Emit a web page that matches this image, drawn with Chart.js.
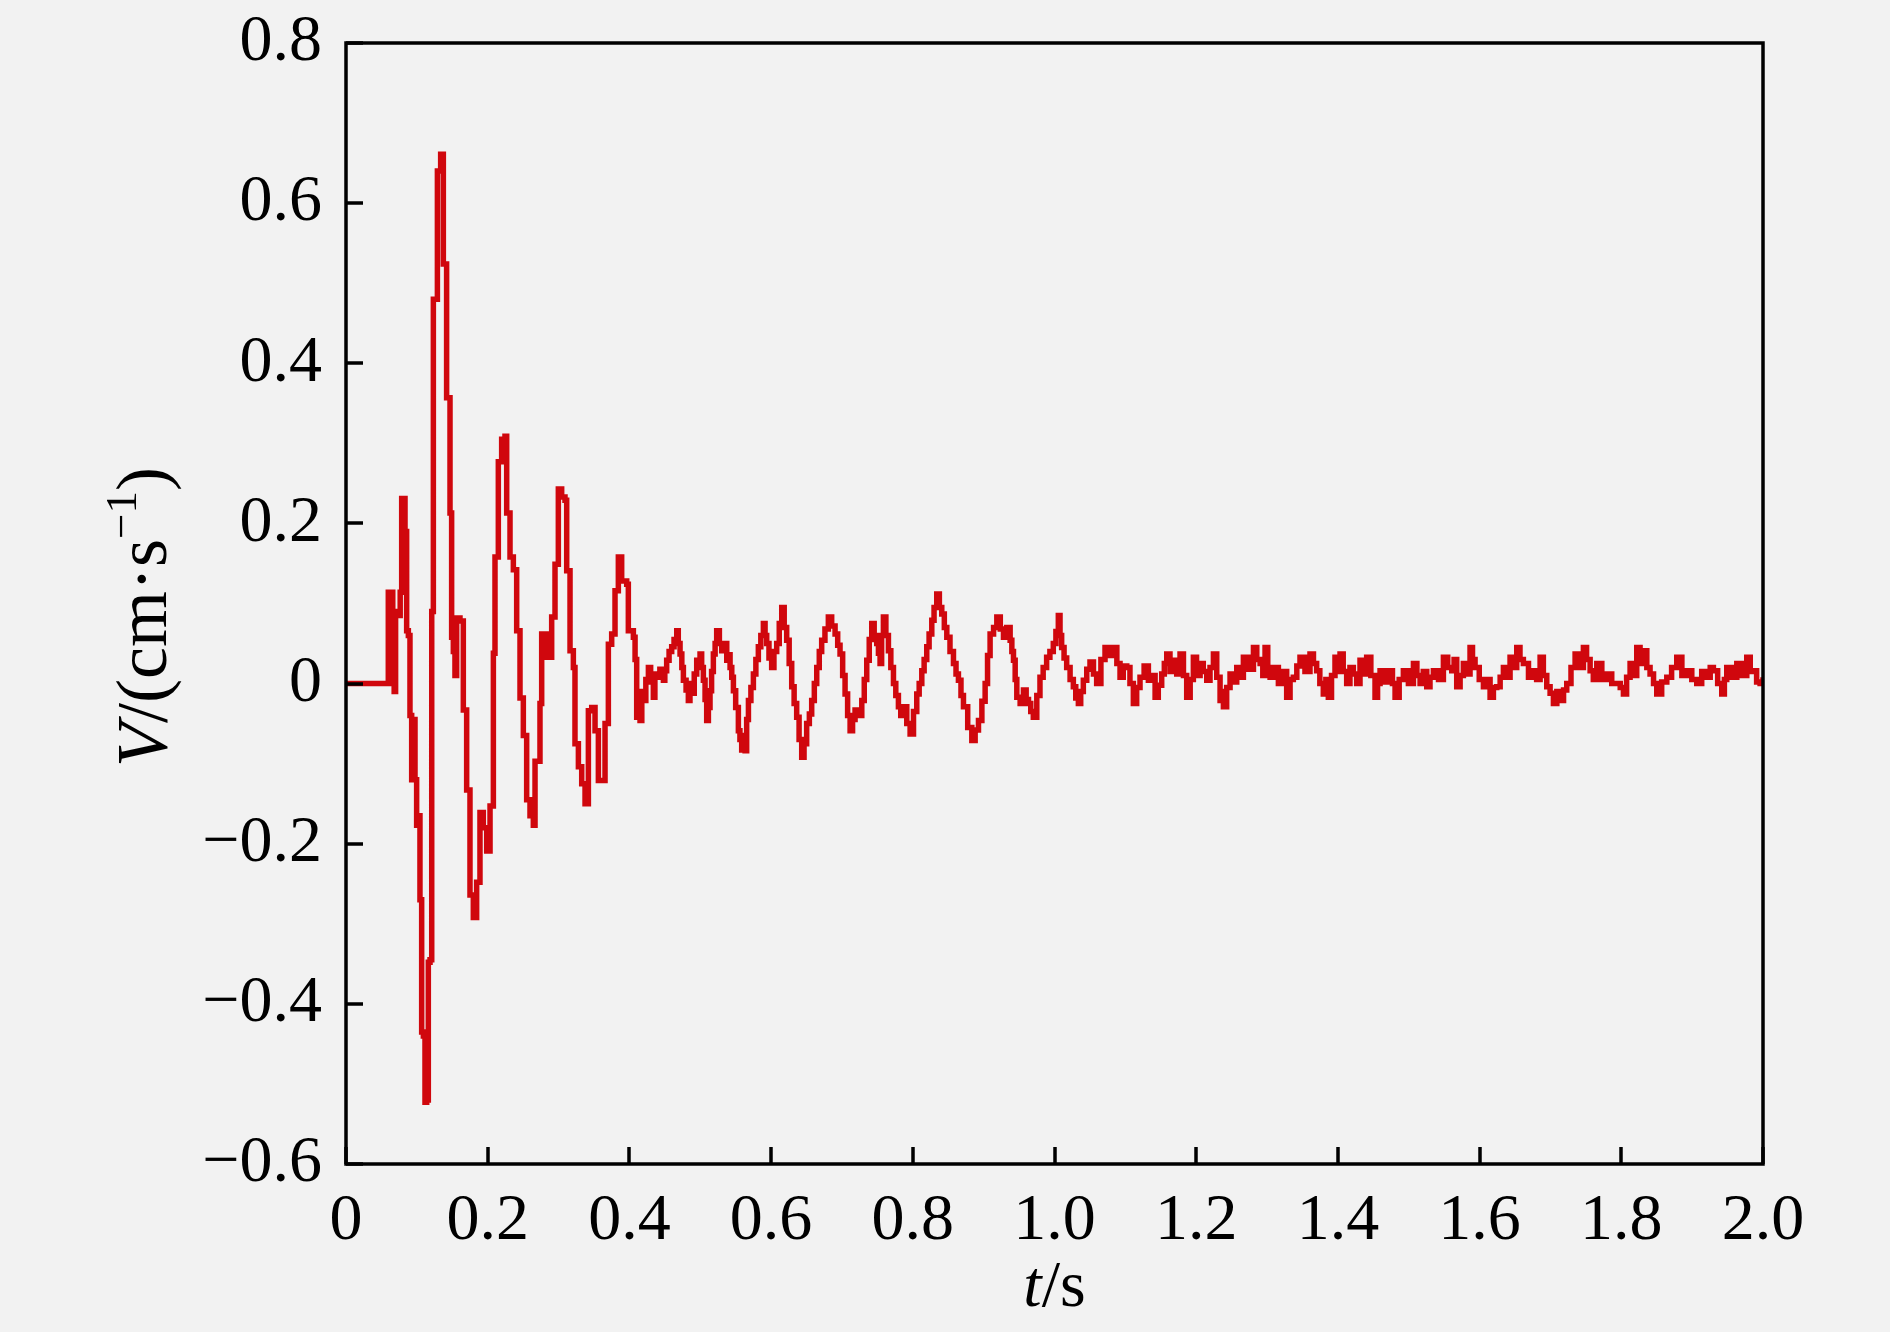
<!DOCTYPE html>
<html>
<head>
<meta charset="utf-8">
<script src="https://cdn.jsdelivr.net/npm/chart.js@4.4.1/dist/chart.umd.min.js"></script>
<style>
  html, body { margin: 0; padding: 0; background: #f2f2f2; }
  #wrap { width: 1890px; height: 1332px; }
</style>
</head>
<body>
<div id="wrap"><canvas id="waveChart" width="1890" height="1332"></canvas></div>
<script>
// Tick values for both axes
const xTicks = [0, 0.2, 0.4, 0.6, 0.8, 1.0, 1.2, 1.4, 1.6, 1.8, 2.0];
const yTicks = [-0.6, -0.4, -0.2, 0, 0.2, 0.4, 0.6, 0.8];

// Onset of the record (0 - 0.4 s): time (s) and velocity (cm/s)
const onsetTimes = [
  0, 0.0585, 0.0597, 0.0630, 0.0650, 0.0660, 0.0680, 0.0700, 0.0740, 0.0765,
  0.0786, 0.0833, 0.0856, 0.0880, 0.0903, 0.0927, 0.0950, 0.0974, 0.0997, 0.1020,
  0.1044, 0.1068, 0.1092, 0.1115, 0.1139, 0.1162, 0.1186, 0.1210, 0.1233, 0.1265,
  0.1290, 0.1336, 0.1374, 0.1420, 0.1468, 0.1491, 0.1515, 0.1538, 0.1562, 0.1609,
  0.1656, 0.1703, 0.1750, 0.1797, 0.1844, 0.1891, 0.1938, 0.1986, 0.2033, 0.2080,
  0.2103, 0.2150, 0.2197, 0.2244, 0.2268, 0.2315, 0.2362, 0.2409, 0.2456, 0.2503,
  0.2550, 0.2597, 0.2644, 0.2668, 0.2738, 0.2762, 0.2830, 0.2903, 0.2950, 0.2997,
  0.3044, 0.3091, 0.3115, 0.3162, 0.3209, 0.3232, 0.3280, 0.3327, 0.3374, 0.3421,
  0.3468, 0.3515, 0.3562, 0.3609, 0.3656, 0.3703, 0.3750, 0.3797, 0.3844, 0.3891,
  0.3962, 0.3985
];
const onsetValues = [
  0, 0, 0.114, 0.105, 0.114, 0.0, -0.01, 0.09, 0.085, 0.114,
  0.231, 0.19, 0.066, 0.06, -0.04, -0.12, -0.045, -0.12, -0.177, -0.165,
  -0.27, -0.435, -0.44, -0.523, -0.52, -0.348, -0.345, 0.09, 0.48, 0.48,
  0.64, 0.661, 0.524, 0.357, 0.213, 0.058, 0.04, 0.01, 0.082, 0.078,
  -0.033, -0.133, -0.264, -0.292, -0.248, -0.161, -0.18, -0.209, -0.153, 0.038,
  0.158, 0.277, 0.305, 0.309, 0.213, 0.158, 0.142, 0.066, -0.018, -0.065,
  -0.145, -0.165, -0.177, -0.097, -0.025, 0.062, 0.033, 0.083, 0.149, 0.243,
  0.233, 0.229, 0.141, 0.041, 0.02, -0.075, -0.104, -0.125, -0.15, -0.034,
  -0.03, -0.059, -0.121, -0.121, -0.05, 0.049, 0.062, 0.116, 0.158, 0.128,
  0.124, 0.066
];

// Coda (0.4 - 2.0 s): time (s) and velocity (cm/s)
const codaTimes = [
  0.4056, 0.4080, 0.4103, 0.4126, 0.4150, 0.4175, 0.4197, 0.4232, 0.4268, 0.4300,
  0.4338, 0.4360, 0.4385, 0.4430, 0.4480, 0.4500, 0.4526, 0.4560, 0.4597, 0.4630,
  0.4668, 0.4690, 0.4715, 0.4740, 0.4762, 0.4800, 0.4832, 0.4855, 0.4880, 0.4915,
  0.4950, 0.4975, 0.4997, 0.5020, 0.5044, 0.5068, 0.5091, 0.5115, 0.5138, 0.5160,
  0.5185, 0.5210, 0.5232, 0.5270, 0.5303, 0.5340, 0.5374, 0.5400, 0.5421, 0.5445,
  0.5468, 0.5500, 0.5538, 0.5560, 0.5585, 0.5610, 0.5633, 0.5655, 0.5680, 0.5715,
  0.5750, 0.5785, 0.5820, 0.5855, 0.5891, 0.5915, 0.5938, 0.5970, 0.6008, 0.6040,
  0.6079, 0.6115, 0.6150, 0.6185, 0.6220, 0.6255, 0.6291, 0.6325, 0.6361, 0.6395,
  0.6432, 0.6465, 0.6502, 0.6540, 0.6573, 0.6610, 0.6644, 0.6680, 0.6714, 0.6760,
  0.6808, 0.6855, 0.6903, 0.6940, 0.6973, 0.7010, 0.7044, 0.7080, 0.7115, 0.7150,
  0.7185, 0.7230, 0.7280, 0.7315, 0.7350, 0.7385, 0.7421, 0.7455, 0.7491, 0.7515,
  0.7538, 0.7560, 0.7585, 0.7620, 0.7656, 0.7690, 0.7727, 0.7760, 0.7797, 0.7830,
  0.7868, 0.7915, 0.7962, 0.8010, 0.8056, 0.8090, 0.8127, 0.8160, 0.8197, 0.8230,
  0.8268, 0.8300, 0.8338, 0.8375, 0.8409, 0.8445, 0.8480, 0.8525, 0.8574, 0.8610,
  0.8644, 0.8680, 0.8715, 0.8775, 0.8833, 0.8880, 0.8927, 0.8975, 0.9021, 0.9055,
  0.9091, 0.9140, 0.9186, 0.9235, 0.9280, 0.9325, 0.9374, 0.9398, 0.9421, 0.9445,
  0.9468, 0.9515, 0.9562, 0.9600, 0.9633, 0.9665, 0.9701, 0.9750, 0.9795, 0.9840,
  0.9889, 0.9935, 0.9983, 1.0020, 1.0054, 1.0078, 1.0101, 1.0135, 1.0172, 1.0220,
  1.0266, 1.0300, 1.0337, 1.0370, 1.0407, 1.0455, 1.0501, 1.0550, 1.0595, 1.0655,
  1.0713, 1.0770, 1.0831, 1.0880, 1.0925, 1.0970, 1.1020, 1.1065, 1.1113, 1.1160,
  1.1207, 1.1265, 1.1325, 1.1370, 1.1420, 1.1465, 1.1513, 1.1550, 1.1584, 1.1630,
  1.1678, 1.1725, 1.1772, 1.1820, 1.1866, 1.1915, 1.1960, 1.2005, 1.2055, 1.2100,
  1.2149, 1.2195, 1.2243, 1.2290, 1.2337, 1.2360, 1.2384, 1.2430, 1.2478, 1.2525,
  1.2572, 1.2620, 1.2666, 1.2735, 1.2808, 1.2855, 1.2902, 1.2940, 1.2972, 1.3010,
  1.3043, 1.3100, 1.3160, 1.3220, 1.3277, 1.3325, 1.3371, 1.3420, 1.3465, 1.3535,
  1.3606, 1.3655, 1.3700, 1.3745, 1.3794, 1.3830, 1.3865, 1.3910, 1.3959, 1.3995,
  1.4030, 1.4075, 1.4124, 1.4170, 1.4218, 1.4265, 1.4312, 1.4360, 1.4406, 1.4465,
  1.4524, 1.4560, 1.4595, 1.4665, 1.4736, 1.4770, 1.4807, 1.4865, 1.4924, 1.4995,
  1.5066, 1.5115, 1.5160, 1.5205, 1.5254, 1.5300, 1.5348, 1.5420, 1.5489, 1.5550,
  1.5607, 1.5640, 1.5677, 1.5725, 1.5771, 1.5820, 1.5865, 1.5900, 1.5936, 1.5995,
  1.6054, 1.6100, 1.6148, 1.6195, 1.6242, 1.6290, 1.6336, 1.6385, 1.6430, 1.6475,
  1.6524, 1.6570, 1.6618, 1.6690, 1.6760, 1.6805, 1.6854, 1.6900, 1.6948, 1.6995,
  1.7042, 1.7090, 1.7136, 1.7185, 1.7230, 1.7290, 1.7348, 1.7405, 1.7465, 1.7510,
  1.7560, 1.7605, 1.7654, 1.7725, 1.7795, 1.7865, 1.7936, 1.7985, 1.8030, 1.8075,
  1.8124, 1.8170, 1.8218, 1.8265, 1.8312, 1.8360, 1.8406, 1.8455, 1.8500, 1.8570,
  1.8642, 1.8710, 1.8783, 1.8855, 1.8924, 1.8995, 1.9065, 1.9135, 1.9206, 1.9255,
  1.9300, 1.9360, 1.9418, 1.9455, 1.9488, 1.9560, 1.9630, 1.9700, 1.9771, 1.9820,
  1.9865, 1.9910, 1.9959, 2.0000
];
const codaValues = [
  0.058, 0.030, -0.042, -0.030, -0.046, -0.010, -0.021, 0.005, 0.020, 0.002,
  -0.017, 0.012, 0.008, 0.018, 0.004, 0.016, 0.029, 0.040, 0.046, 0.055,
  0.066, 0.050, 0.037, 0.020, 0.004, -0.008, -0.021, 0.000, -0.012, 0.012,
  0.029, 0.020, 0.037, 0.020, 0.004, -0.020, -0.046, -0.030, -0.009, 0.015,
  0.037, 0.050, 0.066, 0.050, 0.041, 0.050, 0.029, 0.036, 0.020, 0.008,
  -0.009, -0.030, -0.059, -0.070, -0.083, -0.065, -0.084, -0.045, -0.021, -0.005,
  0.012, 0.030, 0.046, 0.060, 0.075, 0.060, 0.050, 0.032, 0.020, 0.040,
  0.050, 0.075, 0.095, 0.070, 0.054, 0.025, -0.004, -0.025, -0.042, -0.070,
  -0.092, -0.075, -0.050, -0.038, -0.021, 0.000, 0.020, 0.040, 0.054, 0.068,
  0.083, 0.072, 0.062, 0.048, 0.037, 0.010, -0.013, -0.040, -0.059, -0.045,
  -0.033, -0.040, -0.021, 0.005, 0.029, 0.055, 0.075, 0.060, 0.050, 0.038,
  0.025, 0.060, 0.083, 0.060, 0.041, 0.020, 0.000, -0.015, -0.029, -0.040,
  -0.029, -0.050, -0.063, -0.035, -0.013, 0.000, 0.016, 0.030, 0.046, 0.062,
  0.079, 0.095, 0.112, 0.095, 0.087, 0.070, 0.058, 0.040, 0.025, 0.012,
  0.004, -0.015, -0.029, -0.055, -0.071, -0.058, -0.046, -0.022, 0.000, 0.035,
  0.062, 0.070, 0.083, 0.068, 0.058, 0.070, 0.054, 0.040, 0.029, 0.005,
  -0.017, -0.025, -0.008, -0.020, -0.025, -0.035, -0.042, -0.015, 0.008, 0.020,
  0.033, 0.040, 0.050, 0.065, 0.085, 0.060, 0.045, 0.032, 0.020, 0.005,
  -0.004, -0.018, -0.025, -0.010, 0.004, 0.018, 0.027, 0.012, 0.000, 0.030,
  0.045, 0.035, 0.045, 0.025, 0.008, 0.022, 0.020, 0.000, -0.025, -0.005,
  0.008, 0.022, 0.004, 0.010, -0.017, -0.002, 0.012, 0.025, 0.037, 0.015,
  0.029, 0.012, 0.037, 0.010, -0.017, 0.005, 0.033, 0.010, 0.025, 0.015,
  0.004, 0.020, 0.037, 0.008, -0.021, -0.010, -0.029, -0.005, 0.012, 0.002,
  0.020, 0.008, 0.033, 0.018, 0.045, 0.030, 0.025, 0.010, 0.045, 0.020,
  0.008, 0.020, 0.000, 0.015, -0.017, 0.005, 0.008, 0.022, 0.033, 0.015,
  0.037, 0.025, 0.016, 0.000, -0.013, 0.005, -0.017, 0.010, 0.033, 0.015,
  0.037, 0.015, 0.000, 0.020, 0.012, 0.000, 0.029, 0.012, 0.033, 0.010,
  -0.017, 0.000, 0.016, 0.002, 0.016, 0.000, -0.017, 0.005, 0.016, 0.000,
  0.025, 0.010, 0.000, 0.015, -0.004, 0.008, 0.016, 0.005, 0.033, 0.020,
  0.016, 0.030, -0.004, 0.010, 0.025, 0.012, 0.045, 0.030, 0.020, 0.005,
  -0.004, 0.005, -0.017, -0.005, -0.004, 0.008, 0.020, 0.008, 0.033, 0.020,
  0.045, 0.030, 0.025, 0.008, 0.016, 0.005, 0.033, 0.010, -0.004, -0.012,
  -0.025, -0.010, -0.021, -0.008, 0.000, 0.020, 0.037, 0.020, 0.045, 0.030,
  0.016, 0.005, 0.025, 0.005, 0.012, 0.000, 0.000, -0.005, -0.013, 0.008,
  0.025, 0.010, 0.045, 0.025, 0.041, 0.020, 0.012, 0.000, -0.013, 0.002,
  0.008, 0.020, 0.033, 0.010, 0.016, 0.005, 0.000, 0.015, 0.008, 0.020,
  0.016, 0.000, -0.013, 0.005, 0.020, 0.008, 0.025, 0.010, 0.033, 0.015,
  0.016, 0.002, 0.000, 0.008
];

const times = onsetTimes.concat(codaTimes);
const velocity = onsetValues.concat(codaValues);

const serif = "'Liberation Serif', 'Times New Roman', serif";

// Plot frame, inward ticks and axis titles
const framePlugin = {
  id: 'frame',
  afterDraw(chart) {
    const { ctx, chartArea: a, scales } = chart;
    ctx.save();
    ctx.strokeStyle = '#000';
    ctx.lineWidth = 3.5;
    ctx.lineCap = 'butt';

    ctx.beginPath();
    yTicks.forEach(v => {
      const y = Math.round(scales.y.getPixelForValue(v));
      ctx.moveTo(a.left, y);
      ctx.lineTo(a.left + 17, y);
    });
    xTicks.forEach(v => {
      const x = Math.round(scales.x.getPixelForValue(v));
      ctx.moveTo(x, a.bottom);
      ctx.lineTo(x, a.bottom - 17);
    });
    ctx.stroke();

    ctx.strokeRect(a.left, a.top, a.right - a.left, a.bottom - a.top);

    // x title: t/s
    ctx.fillStyle = '#000';
    ctx.textBaseline = 'alphabetic';
    drawParts(ctx, [['t', 'italic'], ['/s', 'normal']], (a.left + a.right) / 2, 1306, 66);

    // y title: V/(cm·s^-1), rotated
    ctx.translate(142, 617);
    ctx.rotate(-Math.PI / 2);
    drawParts(ctx, [['V', 'italic'], ['/(cm·s', 'normal'], ['−1', 'sup'], [')', 'normal']], 0, 24, 72);
    ctx.restore();
  }
};

function fontFor(style, size) {
  if (style === 'italic') return `italic ${size}px ${serif}`;
  if (style === 'sup') return `${Math.round(size * 0.62)}px ${serif}`;
  return `${size}px ${serif}`;
}

function drawParts(ctx, parts, cx, baseY, size) {
  let total = 0;
  const widths = parts.map(([text, style]) => {
    ctx.font = fontFor(style, size);
    const w = ctx.measureText(text).width;
    total += w;
    return w;
  });
  let x = cx - total / 2;
  parts.forEach(([text, style], i) => {
    ctx.font = fontFor(style, size);
    const y = style === 'sup' ? baseY - size * 0.42 : baseY;
    ctx.textAlign = 'left';
    ctx.fillText(text, x, y);
    x += widths[i];
  });
}

function fmt(v) {
  if (Math.abs(v) < 1e-9) return '0';
  return v.toFixed(1).replace('-', '−');
}

const ctx = document.getElementById('waveChart').getContext('2d');
const waveChart = new Chart(ctx, {
  type: 'line',
  data: {
    datasets: [{
      data: times.map((t, i) => ({ x: t, y: velocity[i] })),
      borderColor: '#d0070d',
      borderWidth: 5.5,
      stepped: true,
      pointRadius: 0,
      fill: false,
      tension: 0,
    }],
  },
  options: {
    responsive: false,
    devicePixelRatio: 1,
    animation: false,
    layout: { padding: { top: 43, right: 127, bottom: 0, left: 0 } },
    plugins: {
      legend: { display: false },
      tooltip: { enabled: false },
    },
    scales: {
      x: {
        type: 'linear',
        min: 0,
        max: 2,
        afterFit: s => {
          s.height = 168;
          s.paddingLeft = 0;
          s.paddingRight = 0;
        },
        afterBuildTicks: s => { s.ticks = xTicks.map(v => ({ value: v })); },
        grid: { display: false, drawTicks: false },
        border: { display: false },
        ticks: {
          padding: 18,
          color: '#000',
          font: { family: serif, size: 66 },
          maxRotation: 0,
          autoSkip: false,
          callback: v => fmt(v),
        },
      },
      y: {
        min: -0.6,
        max: 0.8,
        afterFit: s => {
          s.width = 346;
          s.paddingTop = 0;
          s.paddingBottom = 0;
        },
        afterBuildTicks: s => { s.ticks = yTicks.map(v => ({ value: v })); },
        grid: { display: false, drawTicks: false },
        border: { display: false },
        ticks: {
          padding: 24,
          color: '#000',
          font: { family: serif, size: 66 },
          autoSkip: false,
          callback: v => fmt(v),
        },
      },
    },
  },
  plugins: [framePlugin],
});
</script>
</body>
</html>
